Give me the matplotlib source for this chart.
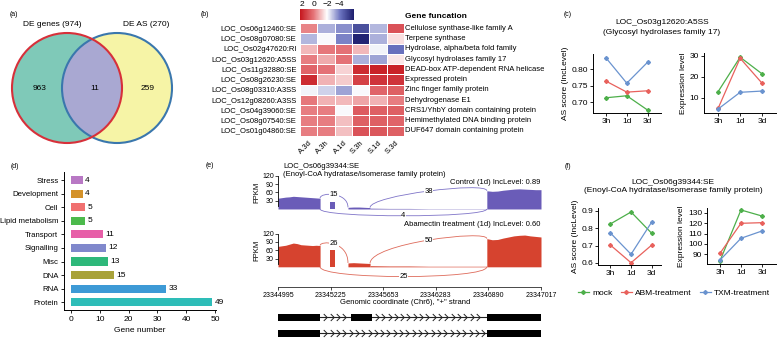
import numpy as np
import matplotlib
matplotlib.use('Agg')
import matplotlib.pyplot as plt
from matplotlib.patches import Circle, Rectangle, PathPatch
from matplotlib.path import Path
from matplotlib.colors import LinearSegmentedColormap, Normalize
from matplotlib.cm import ScalarMappable
from matplotlib.lines import Line2D

plt.rcParams['font.family'] = ['Liberation Sans', 'DejaVu Sans']
plt.rcParams['axes.linewidth'] = 0.7

# ---------------- DATA ----------------
# (a) Venn
venn_names = ['DE genes', 'DE AS']
venn_totals = [974, 270]
venn_only_left, venn_both, venn_only_right = 963, 11, 259

# (b) heatmap
hm_rows = ['LOC_Os06g12460:SE', 'LOC_Os08g07080:SE', 'LOC_Os02g47620:RI',
           'LOC_Os03g12620:A5SS', 'LOC_Os11g32880:SE', 'LOC_Os08g26230:SE',
           'LOC_Os08g03310:A3SS', 'LOC_Os12g08260:A3SS', 'LOC_Os04g39060:SE',
           'LOC_Os08g07540:SE', 'LOC_Os01g04860:SE']
hm_cols = ['A.3d', 'A.3h', 'A.1d', 'S.3h', 'S.1d', 'S.3d']
hm_funcs = ['Cellulose synthase-like family A', 'Terpene synthase',
            'Hydrolase, alpha/beta fold family', 'Glycosyl hydrolases family 17',
            'DEAD-box ATP-dependent RNA helicase', 'Expressed protein',
            'Zinc finger family protein', 'Dehydrogenase E1',
            'CRS1/YhbY domain containing protein', 'Hemimethylated DNA binding protein',
            'DUF647 domain containing protein']
hm_values = [
    [-0.1, -3.2, -3.7, -5.0, -3.1, 0.9],
    [-3.1, -2.1, -3.9, -6.1, -3.2, -1.5],
    [-0.9, 0.1, 0.2, -0.9, -2.2, -4.2],
    [0.0, -0.7, 0.2, -3.2, -3.4, -1.6],
    [0.5, 0.2, -1.3, 1.8, 2.0, 2.0],
    [1.8, -0.8, -1.2, 1.3, 1.6, 1.6],
    [-2.2, -2.7, -3.4, -2.1, 0.5, 0.6],
    [0.1, -0.8, -0.9, -0.6, -0.8, 0.0],
    [0.0, 0.0, -2.1, 0.7, 0.6, 0.6],
    [0.0, 0.0, -1.0, 0.6, 0.6, 0.5],
    [0.0, 0.0, -1.0, 0.9, 0.8, 0.6],
]
cbar_ticks = [2, 0, -2, -4]

# (c) / (f) line charts
times = ['3h', '1d', '3d']
groups = ['mock', 'ABM-treatment', 'TXM-treatment']
c_as = {'mock': [0.714, 0.720, 0.677],
        'ABM-treatment': [0.764, 0.731, 0.735],
        'TXM-treatment': [0.834, 0.758, 0.821]}
c_expr = {'mock': [12.9, 29.4, 21.4],
          'ABM-treatment': [4.9, 28.9, 16.9],
          'TXM-treatment': [4.6, 12.6, 13.2]}
f_as = {'mock': [0.825, 0.894, 0.771],
        'ABM-treatment': [0.703, 0.601, 0.703],
        'TXM-treatment': [0.773, 0.650, 0.836]}
f_expr = {'mock': [83.8, 132.6, 126.8],
          'ABM-treatment': [91.0, 119.8, 120.4],
          'TXM-treatment': [84.5, 105.4, 112.4]}

# (d) bar chart
d_categories = ['Stress', 'Development', 'Cell', 'Lipid metabolism', 'Transport',
                'Signalling', 'Misc', 'DNA', 'RNA', 'Protein']
d_values = [4, 4, 5, 5, 11, 12, 13, 15, 33, 49]

# (e) sashimi (x in compressed display units, tick i = coord_ticks[i])
coord_ticks = [23344995, 23345225, 23345653, 23346283, 23346890, 23347017]
control_cov = [
    (0.00, 0.80, [39, 41, 43, 44, 46, 45, 44, 43, 42, 41, 40, 39]),
    (0.99, 1.08, [25, 25]),
    (1.33, 1.75, [6, 7, 7, 6, 5]),
    (1.75, 3.97, [3, 2, 2, 1, 1, 1, 1]),
    (3.97, 5.00, [66, 64, 65, 68, 70, 72, 73, 72, 71, 70, 70]),
]
abm_cov = [
    (0.00, 0.80, [74, 76, 78, 82, 86, 84, 80, 79, 78, 77, 78, 77]),
    (0.99, 1.08, [60, 60]),
    (1.33, 1.75, [14, 15, 14, 13, 12]),
    (1.75, 3.97, [4, 3, 3, 2, 2, 2, 2]),
    (3.97, 5.00, [102, 98, 99, 104, 108, 112, 114, 115, 112, 110, 108]),
]
control_junc = [(0.80, 1.33, 15), (1.75, 3.97, 38), (0.80, 3.97, 4)]
abm_junc = [(0.80, 1.33, 26), (1.75, 3.97, 50), (0.80, 3.97, 25)]
transcripts = [[(0.00, 0.80), (1.39, 1.78), (3.97, 5.00)],
               [(0.00, 0.80), (3.97, 5.00)]]

# ---------------- FIGURE ----------------
W, H = 778, 340
fig = plt.figure(figsize=(W / 100, H / 100), dpi=100)


def add_ax(x0, y0, x1, y1):
    return fig.add_axes([x0 / W, 1 - y1 / H, (x1 - x0) / W, (y1 - y0) / H])


def T(x, y, s, **kw):
    kw.setdefault('fontsize', 6)
    kw.setdefault('ha', 'center')
    kw.setdefault('va', 'center')
    fig.text(x / W, 1 - y / H, s, **kw)


# ---- (a) Venn ----
ov = add_ax(0, 0, W, H)
ov.set_xlim(0, W)
ov.set_ylim(H, 0)
ov.axis('off')
lc, rc, r = (67, 88), (117, 88), 55
left = Circle(lc, r, facecolor='#7fc9b8', edgecolor='none')
right = Circle(rc, r, facecolor='#f6f4a6', edgecolor='none')
ov.add_patch(left)
ov.add_patch(right)
inter = Circle(rc, r, facecolor='#a9a8d2', edgecolor='none')
ov.add_patch(inter)
inter.set_clip_path(left)
ov.add_patch(Circle(rc, r, facecolor='none', edgecolor='#3a77ad', lw=1.5))
ov.add_patch(Circle(lc, r, facecolor='none', edgecolor='#d7303a', lw=1.5))
T(40, 89, str(venn_only_left))
T(95, 89, str(venn_both))
T(148, 89, str(venn_only_right))
T(52, 24, f'{venn_names[0]} ({venn_totals[0]})')
T(146, 24, f'{venn_names[1]} ({venn_totals[1]})')
T(14, 15, '(a)', fontsize=5)

# ---- (b) heatmap ----
cmap = LinearSegmentedColormap.from_list(
    'bwr2', ['#1c1d6c', '#6a72bf', '#ffffff', '#e57478', '#c5161d'])
norm = Normalize(vmin=-6.3, vmax=2.3)
hm = add_ax(300, 23.2, 404, 136)
vals = np.array(hm_values)
hm.pcolormesh(vals, cmap=cmap, norm=norm, edgecolors='white', linewidth=0.7)
hm.set_xlim(0, len(hm_cols))
hm.set_ylim(len(hm_rows), 0)
for s in hm.spines.values():
    s.set_visible(False)
hm.set_yticks(np.arange(len(hm_rows)) + 0.5, hm_rows, fontsize=5.5)
hm.set_xticks(np.arange(len(hm_cols)) + 0.5, hm_cols, fontsize=5.5,
              rotation=45, ha='right', rotation_mode='anchor')
hm.tick_params(length=0, pad=2.5)
for i, f in enumerate(hm_funcs):
    hm.text(6.06, i + 0.5, f, ha='left', va='center', fontsize=5.5, clip_on=False)
T(405, 17, 'Gene funcation', fontsize=6, ha='left', fontweight='bold')
T(205, 15, '(b)', fontsize=5)
cax = add_ax(300, 9, 354, 20)
cb = fig.colorbar(ScalarMappable(norm=norm, cmap=cmap), cax=cax, orientation='horizontal')
cb.outline.set_visible(False)
cax.invert_xaxis()
cax.xaxis.set_ticks_position('top')
cb.set_ticks(cbar_ticks)
cb.set_ticklabels([str(t).replace('-', '\u2212') for t in cbar_ticks])
cax.tick_params(length=0, labelsize=6, pad=1)

# ---- (c)/(f) line charts ----
gcol = {'mock': '#4daf4a', 'ABM-treatment': '#e8615c', 'TXM-treatment': '#6a93cf'}
xpos = np.arange(1, 4)


def line_panel(box, data, xlim, ylim, yticks, yfmt, ylabel):
    ax = add_ax(*box)
    for g in groups:
        ax.plot(xpos, data[g], color=gcol[g], lw=0.9, marker='D', ms=2.0)
    ax.set_xlim(*xlim)
    ax.set_ylim(*ylim)
    ax.set_xticks(xpos, times)
    ax.set_yticks(yticks, [yfmt.format(v) for v in yticks])
    ax.tick_params(labelsize=6, length=2, width=0.6, pad=1.5)
    for s in ['top', 'right']:
        ax.spines[s].set_visible(False)
    ax.set_ylabel(ylabel, fontsize=6, labelpad=2)
    return ax


line_panel((593, 54, 661, 113), c_as, (0.37, 3.65), (0.668, 0.846),
           [0.70, 0.75, 0.80], '{:.2f}', 'AS score (IncLevel)')
line_panel((704, 53, 776, 113), c_expr, (0.36, 3.63), (2.7, 31.4),
           [10, 20, 30], '{:.0f}', 'Expression level')
T(662, 22, 'LOC_Os03g12620:A5SS')
T(662, 33, '(Glycosyl hydrolases family 17)')
T(568, 15, '(c)', fontsize=5)

line_panel((598, 208, 661, 265), f_as, (0.40, 3.45), (0.588, 0.917),
           [0.6, 0.7, 0.8, 0.9], '{:.1f}', 'AS score (IncLevel)')
line_panel((707, 208, 776, 264), f_expr, (0.38, 3.67), (80.7, 134.5),
           [90, 100, 110, 120, 130], '{:.0f}', 'Expression level')
T(673, 182, 'LOC_Os06g39344:SE')
T(673, 191, '(Enoyl-CoA hydratase/isomerase family protein)')
T(568, 167, '(f)', fontsize=5)
handles = [Line2D([0], [0], color=gcol[g], lw=0.9, marker='D', ms=2.0) for g in groups]
fig.legend(handles, groups, loc='center', bbox_to_anchor=(674 / W, 1 - 293 / H),
           ncol=3, frameon=False, fontsize=6, handlelength=1.3,
           columnspacing=1.0, handletextpad=0.4, borderpad=0, borderaxespad=0)

# ---- (d) bar chart ----
dcol = ['#b878c4', '#d4922a', '#f07070', '#4cba4c', '#e75fa8',
        '#8088cc', '#2eb87a', '#a8a23a', '#3d9ad6', '#2ebdb8']
axd = add_ax(64, 172, 216, 310)
ypos = np.arange(len(d_categories))[::-1]
axd.barh(ypos, d_values, height=0.6, color=dcol)
for y, v in zip(ypos, d_values):
    axd.text(v + 0.8, y, str(v), va='center', ha='left', fontsize=6)
axd.set_xlim(-2.43, 50.35)
axd.set_ylim(-0.57, 9.59)
axd.set_yticks(ypos, d_categories)
axd.set_xticks([0, 10, 20, 30, 40, 50])
axd.tick_params(axis='x', labelsize=6, length=2.5, width=0.6, pad=1.5)
axd.tick_params(axis='y', labelsize=5.6, length=2.5, width=0.6, pad=1.5)
for s in ['top', 'right']:
    axd.spines[s].set_visible(False)
axd.set_xlabel('Gene number', fontsize=6, labelpad=3)
T(15, 167, '(d)', fontsize=5)


# ---- (e) sashimi ----
def bez(ax, x1, y1, x2, y2, h1, h2, n, color):
    verts = [(x1, y1), (x1, h1), (x2, h2), (x2, y2)]
    p = Path(verts, [Path.MOVETO, Path.CURVE4, Path.CURVE4, Path.CURVE4])
    ax.add_patch(PathPatch(p, facecolor='none', edgecolor=color, lw=0.6, clip_on=False))
    mx = 0.125 * x1 + 0.375 * x1 + 0.375 * x2 + 0.125 * x2
    my = 0.125 * y1 + 0.375 * h1 + 0.375 * h2 + 0.125 * y2
    ax.text(mx, my, str(n), ha='center', va='center', fontsize=5.5,
            bbox=dict(facecolor='white', edgecolor='none', pad=0.3), clip_on=False)


def cov_at(segs, x, side):
    for s, e, v in segs:
        if side == 'end' and abs(e - x) < 1e-6:
            return v[-1]
        if side == 'start' and abs(s - x) < 1e-6:
            return v[0]
    return 0


def track(box, ylim, segs, juncs, fill, arc, heights):
    ax = add_ax(*box)
    for s, e, v in segs:
        xs = np.concatenate([[s], np.linspace(s, e, len(v)), [e]])
        ys = np.concatenate([[0], v, [0]])
        ax.fill_between(xs, 0, ys, color=fill, lw=0)
    for (s, e, n), (h1, h2, below) in zip(juncs, heights):
        if below:
            bez(ax, s, 0, e, 0, h1, h2, n, arc)
        else:
            bez(ax, s, cov_at(segs, s, 'end'), e, cov_at(segs, e, 'start'), h1, h2, n, arc)
    ax.set_xlim(0, 5)
    ax.set_ylim(*ylim)
    ax.set_xticks([])
    ax.set_yticks([30, 60, 90, 120])
    ax.tick_params(labelsize=5, length=2, width=0.5, pad=1)
    for s in ['top', 'right', 'bottom']:
        ax.spines[s].set_visible(False)
    ax.spines['left'].set_bounds(10, 120)
    ax.spines['left'].set_linewidth(0.6)
    ax.patch.set_visible(False)
    return ax


track((278, 169, 541, 220), (-40, 145), control_cov, control_junc, '#6a5cb8', '#7f74c8',
      [(62, 62, False), (50, 100, False), (-33, -33, True)])
track((278, 224, 541, 282), (-55, 155), abm_cov, abm_junc, '#d6432f', '#de6a5a',
      [(95, 95, False), (85, 135, False), (-47, -47, True)])
T(257, 192, 'FPKM', rotation=90, fontsize=5.5)
T(257, 250, 'FPKM', rotation=90, fontsize=5.5)
T(540, 182, 'Control (1d) IncLevel: 0.89', ha='right', fontsize=5.5)
T(540, 225, 'Abamectin treatment (1d) IncLevel: 0.60', ha='right', fontsize=5.5)
T(283, 166, 'LOC_Os06g39344:SE', ha='left', fontsize=5.5)
T(283, 175, '(Enoyl-CoA hydratase/isomerase family protein)', ha='left', fontsize=5.5)
T(210, 165, '(e)', fontsize=5)

axc = add_ax(278, 286, 541, 287)
axc.set_xlim(0, 5)
axc.set_yticks([])
axc.set_xticks(np.arange(len(coord_ticks)), [str(c) for c in coord_ticks])
axc.tick_params(labelsize=5, length=2, width=0.5, pad=1.5)
for s in ['top', 'right', 'left']:
    axc.spines[s].set_visible(False)
axc.spines['bottom'].set_linewidth(0.5)
axc.patch.set_visible(False)
T(405, 303, 'Genomic coordinate (Chr6), "+" strand', fontsize=5.5)

axg = add_ax(278, 310, 541, 340)
axg.set_xlim(0, 5)
axg.set_ylim(1.42, -0.46)
axg.axis('off')
chev = Path([(-0.5, 1.0), (0.5, 0.0), (-0.5, -1.0)], [Path.MOVETO, Path.LINETO, Path.LINETO])
for row, exons in enumerate(transcripts):
    for (s1, e1), (s2, e2) in zip(exons[:-1], exons[1:]):
        axg.plot([e1, s2], [row, row], color='#222222', lw=0.8, zorder=2)
        cx = np.arange(e1 + 0.1, s2 - 0.05, 0.12)
        axg.plot(cx, np.full(len(cx), float(row)), ls='none', marker=chev, ms=5,
                 markerfacecolor='none', markeredgecolor='#222222', markeredgewidth=0.7,
                 zorder=3)
    for s, e in exons:
        axg.add_patch(Rectangle((s, row - 0.22), e - s, 0.44, facecolor='black',
                                edgecolor='none', zorder=4))

fig.savefig('out.png', dpi=100)
